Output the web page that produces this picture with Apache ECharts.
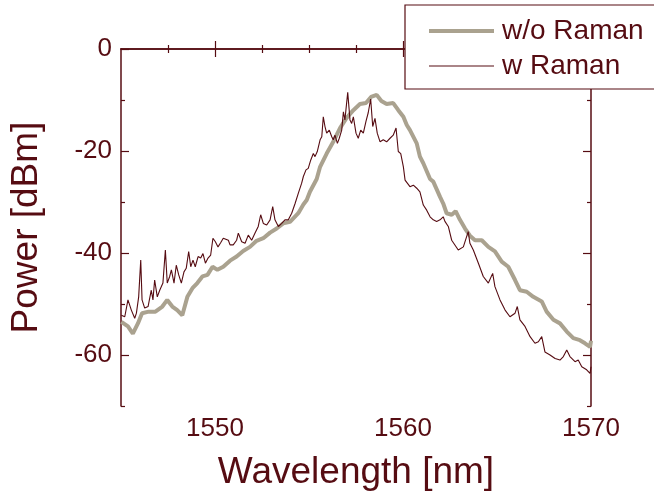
<!DOCTYPE html>
<html><head><meta charset="utf-8">
<script src="https://cdn.jsdelivr.net/npm/echarts@6/dist/echarts.min.js"></script>
<style>html,body{margin:0;padding:0;background:#fff}#c{width:654px;height:498px}</style>
</head><body><div id="c"></div>
<script>
// ---- data (wavelength nm, power dBm) ----
const seriesNames = ['w/o Raman', 'w Raman'];
const woRamanPts = [
[1545.02,-53.5],[1545.37,-54.4],[1545.63,-55.8],[1545.90,-53.8],[1546.12,-51.8],[1546.47,-51.5],[1546.83,-51.5],
[1547.20,-50.5],[1547.46,-49.2],[1547.73,-50.5],[1547.99,-51.2],[1548.26,-52.2],[1548.53,-48.6],[1548.80,-46.9],
[1549.06,-45.9],[1549.33,-44.6],[1549.60,-44.3],[1549.87,-42.7],[1550.13,-43.3],[1550.44,-42.7],[1550.80,-41.5],
[1551.15,-40.7],[1551.50,-39.6],[1551.86,-38.8],[1552.21,-37.6],[1552.57,-37.1],[1552.93,-36.0],[1553.28,-35.2],
[1553.63,-34.2],[1553.99,-33.9],[1554.43,-32.2],[1554.70,-30.5],[1554.88,-29.6],[1555.05,-28.0],[1555.41,-25.5],
[1555.59,-23.1],[1555.94,-20.5],[1556.29,-18.2],[1556.65,-15.5],[1557.00,-13.5],[1557.36,-12.0],[1557.71,-10.8],
[1558.03,-10.6],[1558.30,-9.4],[1558.60,-9.0],[1558.85,-10.2],[1559.13,-10.8],[1559.48,-10.6],[1559.75,-12.0],
[1560.02,-13.3],[1560.20,-14.9],[1560.37,-15.9],[1560.73,-18.5],[1560.90,-21.1],[1561.08,-22.4],[1561.44,-25.5],
[1561.61,-26.0],[1561.97,-29.0],[1562.14,-30.3],[1562.32,-32.2],[1562.59,-32.5],[1562.80,-31.8],[1563.03,-33.5],
[1563.30,-35.2],[1563.56,-36.6],[1563.83,-37.5],[1564.19,-37.5],[1564.54,-38.8],[1564.89,-39.7],[1565.25,-41.7],
[1565.60,-42.7],[1565.96,-45.3],[1566.22,-47.3],[1566.58,-47.6],[1566.93,-48.6],[1567.38,-49.5],[1567.64,-51.5],
[1568.00,-53.1],[1568.35,-53.8],[1568.71,-55.4],[1569.06,-56.7],[1569.41,-57.1],[1569.68,-57.7],[1569.95,-58.4],
[1570.00,-57.2]
];
const wRamanPts = [
[1545.02,-52.2],[1545.20,-52.5],[1545.37,-49.2],[1545.55,-51.2],[1545.73,-52.8],[1545.82,-51.8],[1545.94,-48.6],
[1546.05,-41.4],[1546.12,-49.2],[1546.26,-50.8],[1546.44,-50.5],[1546.61,-47.3],[1546.70,-49.2],[1546.79,-45.3],
[1546.93,-48.6],[1547.06,-47.3],[1547.23,-45.9],[1547.36,-39.4],[1547.46,-45.9],[1547.59,-44.6],[1547.68,-43.3],
[1547.82,-45.9],[1547.94,-42.4],[1548.07,-44.3],[1548.21,-45.9],[1548.35,-43.7],[1548.47,-43.0],[1548.60,-39.7],
[1548.71,-42.7],[1548.83,-41.4],[1548.95,-42.7],[1549.10,-40.7],[1549.24,-41.0],[1549.36,-40.1],[1549.49,-42.0],
[1549.63,-41.0],[1549.77,-40.4],[1549.89,-37.1],[1550.02,-37.8],[1550.16,-38.8],[1550.30,-38.0],[1550.44,-37.1],
[1550.53,-36.8],[1550.71,-37.5],[1550.80,-38.4],[1550.97,-38.4],[1551.15,-37.5],[1551.24,-36.1],[1551.42,-37.8],
[1551.60,-38.1],[1551.77,-36.5],[1551.95,-37.5],[1552.13,-36.1],[1552.30,-34.8],[1552.43,-32.5],[1552.57,-34.2],
[1552.75,-34.5],[1552.93,-33.5],[1553.07,-30.9],[1553.19,-33.5],[1553.37,-34.8],[1553.55,-34.2],[1553.72,-33.5],
[1553.90,-33.5],[1554.08,-32.2],[1554.26,-30.3],[1554.43,-28.3],[1554.61,-26.3],[1554.70,-25.0],[1554.84,-23.7],
[1554.96,-23.4],[1555.09,-21.8],[1555.23,-20.5],[1555.32,-21.1],[1555.44,-20.1],[1555.59,-17.8],[1555.68,-17.2],
[1555.76,-13.3],[1555.85,-15.2],[1555.94,-16.5],[1556.08,-15.9],[1556.21,-17.2],[1556.29,-17.8],[1556.38,-16.9],
[1556.51,-18.5],[1556.61,-17.5],[1556.74,-15.9],[1556.83,-12.3],[1556.91,-13.9],[1557.06,-8.5],[1557.18,-13.9],
[1557.27,-14.6],[1557.36,-13.3],[1557.50,-16.5],[1557.62,-17.5],[1557.75,-15.9],[1557.89,-16.5],[1558.03,-14.2],
[1558.15,-12.5],[1558.28,-9.8],[1558.39,-15.2],[1558.51,-13.6],[1558.63,-16.5],[1558.78,-18.2],[1558.95,-17.8],
[1559.13,-18.2],[1559.31,-17.5],[1559.48,-16.9],[1559.63,-15.5],[1559.75,-20.1],[1559.88,-20.5],[1560.02,-23.1],
[1560.11,-25.7],[1560.23,-26.3],[1560.37,-27.0],[1560.55,-26.7],[1560.73,-27.3],[1560.90,-28.0],[1561.08,-30.6],
[1561.26,-31.6],[1561.44,-32.9],[1561.61,-33.5],[1561.79,-33.8],[1561.97,-33.5],[1562.14,-32.9],[1562.23,-33.8],
[1562.41,-34.8],[1562.59,-37.5],[1562.94,-39.4],[1563.21,-38.8],[1563.47,-35.8],[1563.56,-38.1],[1563.74,-39.4],
[1564.01,-42.0],[1564.27,-44.6],[1564.54,-45.9],[1564.77,-44.0],[1564.89,-46.6],[1565.16,-49.2],[1565.43,-51.2],
[1565.69,-52.5],[1565.96,-51.8],[1566.08,-50.5],[1566.22,-53.1],[1566.49,-54.4],[1566.76,-56.4],[1567.02,-57.7],
[1567.20,-57.4],[1567.38,-56.4],[1567.55,-59.4],[1567.82,-60.0],[1568.09,-60.7],[1568.35,-61.0],[1568.53,-60.3],
[1568.71,-59.0],[1568.88,-60.3],[1569.15,-61.3],[1569.32,-61.0],[1569.51,-62.3],[1569.77,-62.9],[1569.95,-63.6],
[1570.00,-62.3]
];
const xMajorTicks = [1550, 1560, 1570];
const xMinorTicks = [1547.5, 1552.5, 1555, 1557.5, 1562.5, 1565, 1567.5];
const yMajorTicks = [0, -20, -40, -60];
const yMinorTicks = [-10, -30, -50, -70];
const xRange = [1545, 1570];
const yRange = [-70, 0];

// ---- styling ----
const INK = '#560c12';
const GREY = '#aaa28f';
const FONT = "'Liberation Sans', Arial, Helvetica, sans-serif";
const axisLineStyle = { color: INK, width: 1.5 };

function xAx(pos, major, withLabel) {
  const a = {
    type: 'value', position: pos, min: xRange[0], max: xRange[1],
    axisLine: { show: !major, lineStyle: axisLineStyle },
    axisTick: { show: true, inside: true, length: major ? 8 : 4,
      customValues: major ? xMajorTicks : xMinorTicks, lineStyle: { color: INK, width: 1.2 } },
    axisLabel: { show: false },
    splitLine: { show: false }
  };
  if (withLabel) {
    a.axisLabel = { show: true, customValues: xMajorTicks, formatter: v => String(v),
      color: INK, fontSize: 26, fontFamily: FONT, margin: 10 };
    a.name = 'Wavelength [nm]';
    a.nameLocation = 'middle';
    a.nameGap = 48;
    a.nameTextStyle = { color: INK, fontSize: 37, fontFamily: FONT };
  }
  return a;
}
function yAx(pos, major, withLabel) {
  const a = {
    type: 'value', position: pos, min: yRange[0], max: yRange[1],
    axisLine: { show: !major, lineStyle: axisLineStyle },
    axisTick: { show: true, inside: true, length: major ? 8 : 4,
      customValues: major ? yMajorTicks : yMinorTicks, lineStyle: { color: INK, width: 1.2 } },
    axisLabel: { show: false },
    splitLine: { show: false }
  };
  if (withLabel) {
    a.axisLabel = { show: true, customValues: yMajorTicks, formatter: v => String(v),
      color: INK, fontSize: 26, fontFamily: FONT, margin: 9 };
    a.name = 'Power [dBm]';
    a.nameLocation = 'middle';
    a.nameGap = 76;
    a.nameTextStyle = { color: INK, fontSize: 37, fontFamily: FONT };
  }
  return a;
}

const chart = echarts.init(document.getElementById('c'), null, { renderer: 'canvas' });
chart.setOption({
  animation: false,
  backgroundColor: '#ffffff',
  grid: { left: 121, top: 49, width: 470, height: 357, containLabel: false },
  xAxis: [xAx('bottom', false, true), xAx('bottom', true, false), xAx('top', false, false), xAx('top', true, false)],
  yAxis: [yAx('left', false, true), yAx('left', true, false), yAx('right', false, false), yAx('right', true, false)],
  legend: {
    orient: 'vertical', left: 405, top: 5,
    padding: [11, 200, 8, 22], itemGap: 5, itemWidth: 65, itemHeight: 14,
    borderColor: INK, borderWidth: 1.2, backgroundColor: '#ffffff',
    itemStyle: { opacity: 0 },
    textStyle: { color: INK, fontSize: 28, fontFamily: FONT, lineHeight: 30, padding: [0, 0, 0, 3] },
    data: [
      { name: seriesNames[0], lineStyle: { width: 4 } },
      { name: seriesNames[1], lineStyle: { width: 1.2 } }
    ]
  },
  series: [
    { name: seriesNames[0], type: 'line', xAxisIndex: 0, yAxisIndex: 0, data: woRamanPts,
      showSymbol: false, symbol: 'none', color: GREY, lineStyle: { color: GREY, width: 4 }, z: 2 },
    { name: seriesNames[1], type: 'line', xAxisIndex: 0, yAxisIndex: 0, data: wRamanPts,
      showSymbol: false, symbol: 'none', color: INK, lineStyle: { color: INK, width: 1.1 }, z: 3 }
  ]
});
</script>
</body></html>
